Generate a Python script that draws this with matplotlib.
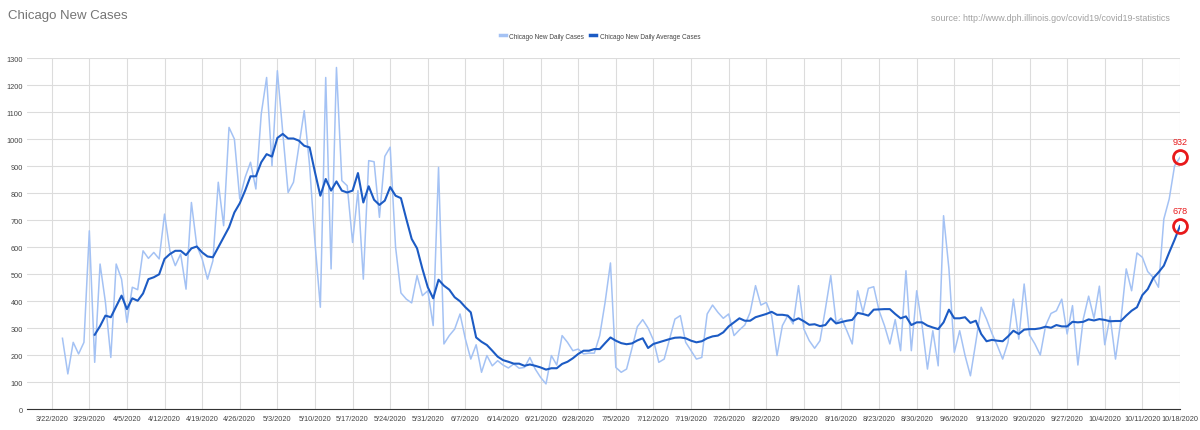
import pandas as pd
import matplotlib
matplotlib.use("Agg")
import matplotlib.pyplot as plt

plt.rcParams["font.family"] = ["Liberation Sans", "DejaVu Sans"]

# daily new cases, 3/24/2020 .. 10/18/2020
daily_start = "2020-03-24"
daily_cases = [
    262, 130, 247, 204, 247, 660, 173, 537, 395, 191, 537, 481, 321, 451, 442, 586, 558, 580, 556,
    722, 586, 531, 574, 444, 765, 605, 556, 481, 549, 840, 679, 1043, 1000, 778, 858, 914, 815,
    1093, 1228, 901, 1253, 1025, 802, 840, 973, 1105, 901, 617, 377, 1228, 519, 1265, 846, 827,
    617, 809, 481, 920, 916, 710, 936, 970, 600, 430, 407, 393, 494, 420, 438, 309, 895, 241, 272,
    296, 352, 259, 185, 238, 136, 198, 160, 179, 163, 152, 167, 151, 154, 191, 148, 117, 93, 198,
    163, 272, 247, 216, 222, 204, 207, 207, 272, 395, 541, 154, 136, 148, 225, 305, 331, 300, 255,
    173, 185, 259, 333, 346, 247, 216, 185, 191, 352, 385, 358, 336, 352, 272, 293, 311, 358, 457,
    385, 395, 346, 198, 309, 346, 315, 457, 296, 253, 225, 253, 370, 494, 321, 336, 290, 241, 438,
    358, 447, 453, 364, 309, 241, 331, 216, 512, 216, 438, 309, 148, 290, 160, 716, 519, 210, 290,
    198, 123, 247, 377, 333, 280, 235, 185, 247, 407, 259, 463, 274, 241, 200, 309, 354, 364, 407,
    278, 383, 163, 333, 418, 336, 455, 238, 343, 185, 328, 519, 438, 578, 562, 509, 488, 451, 704,
    778, 901, 932,
]

# 7 day average, 3/30/2020 .. 10/18/2020
avg_start = "2020-03-30"
avg_cases = [
    275, 307, 346, 340, 380, 420, 370, 410, 401, 428, 481, 488, 499, 556, 574, 586, 586, 570, 595,
    602, 580, 565, 562, 599, 636, 673, 728, 762, 809, 862, 862, 914, 944, 935, 1004, 1019, 1002,
    1002, 994, 975, 969, 877, 790, 852, 809, 843, 809, 802, 809, 874, 765, 825, 775, 756, 772, 822,
    790, 781, 704, 630, 595, 519, 451, 410, 479, 457, 442, 414, 399, 377, 358, 265, 249, 237, 216,
    194, 181, 175, 168, 168, 160, 165, 160, 154, 146, 151, 151, 167, 175, 188, 204, 216, 216, 222,
    222, 244, 265, 253, 244, 240, 243, 254, 262, 226, 241, 247, 253, 259, 264, 265, 262, 253, 247,
    251, 262, 269, 272, 284, 306, 321, 336, 327, 327, 340, 346, 352, 360, 349, 349, 346, 327, 336,
    325, 312, 314, 307, 311, 336, 317, 322, 327, 330, 356, 352, 346, 368, 369, 370, 370, 352, 336,
    343, 311, 321, 321, 309, 302, 296, 321, 368, 336, 336, 340, 319, 327, 278, 251, 256, 253, 251,
    269, 290, 278, 294, 296, 296, 299, 305, 301, 311, 306, 306, 323, 321, 323, 332, 328, 333, 330,
    325, 326, 326, 346, 364, 377, 422, 444, 484, 506, 531, 580, 627, 678,
]

tick_dates = pd.date_range("2020-03-22", "2020-10-18", freq="7D")
tick_labels = [f"{d.month}/{d.day}/{d.year}" for d in tick_dates]

daily_x = pd.date_range(daily_start, periods=len(daily_cases), freq="D")
avg_x = pd.date_range(avg_start, periods=len(avg_cases), freq="D")

light = "#a4c2f4"
dark = "#1c5bc4"
grid = "#dcdcdc"
txt = "#444444"

fig = plt.figure(figsize=(12, 4.31), dpi=100)
ax = fig.add_axes([0.0225, 0.0487, 0.9608, 0.8143])

ax.plot(daily_x, daily_cases, color=light, lw=1.1, zorder=2)
ax.plot(avg_x, avg_cases, color=dark, lw=1.5, zorder=3)

# highlighted last values
for xs, ys in [(daily_x, daily_cases), (avg_x, avg_cases)]:
    ax.plot(xs[-1], ys[-1], "o", ms=10, mfc="none", mec="#e8191b", mew=2, zorder=4, clip_on=False)
    ax.annotate(str(ys[-1]), (xs[-1], ys[-1]), xytext=(0, 8), textcoords="offset points",
                ha="center", va="bottom", color="#e8191b", fontsize=6.5, annotation_clip=False)

ax.set_ylim(0, 1300)
ax.set_xlim(tick_dates[0] - pd.Timedelta(days=4.6), tick_dates[-1])
ax.set_yticks(range(0, 1301, 100))
ax.set_xticks(tick_dates)
ax.set_xticklabels(tick_labels)
ax.tick_params(axis="both", length=0, labelsize=5.3, labelcolor=txt, pad=4)
ax.tick_params(axis="y", pad=3)
ax.grid(True, color=grid, lw=0.8, zorder=0)
for s in ["top", "right", "left"]:
    ax.spines[s].set_visible(False)
ax.spines["bottom"].set_color("#333333")
ax.spines["bottom"].set_linewidth(0.8)

fig.text(0.0067, 0.962, "Chicago New Cases", fontsize=9.5, color="#757575", va="center")
fig.text(0.776, 0.958, "source: http://www.dph.illinois.gov/covid19/covid19-statistics",
         fontsize=6.4, color="#a0a0a0", va="center")

leg = fig.legend(["Chicago New Daily Cases", "Chicago New Daily Average Cases"],
                 loc="center", bbox_to_anchor=(0.5, 0.914), ncol=2, frameon=False,
                 fontsize=4.7, handlelength=0.9, handletextpad=0.5, columnspacing=1.0)
for t in leg.get_texts():
    t.set_color(txt)
for h in leg.get_lines():
    h.set_linewidth(2.5)

fig.savefig("out.png", dpi=100)
